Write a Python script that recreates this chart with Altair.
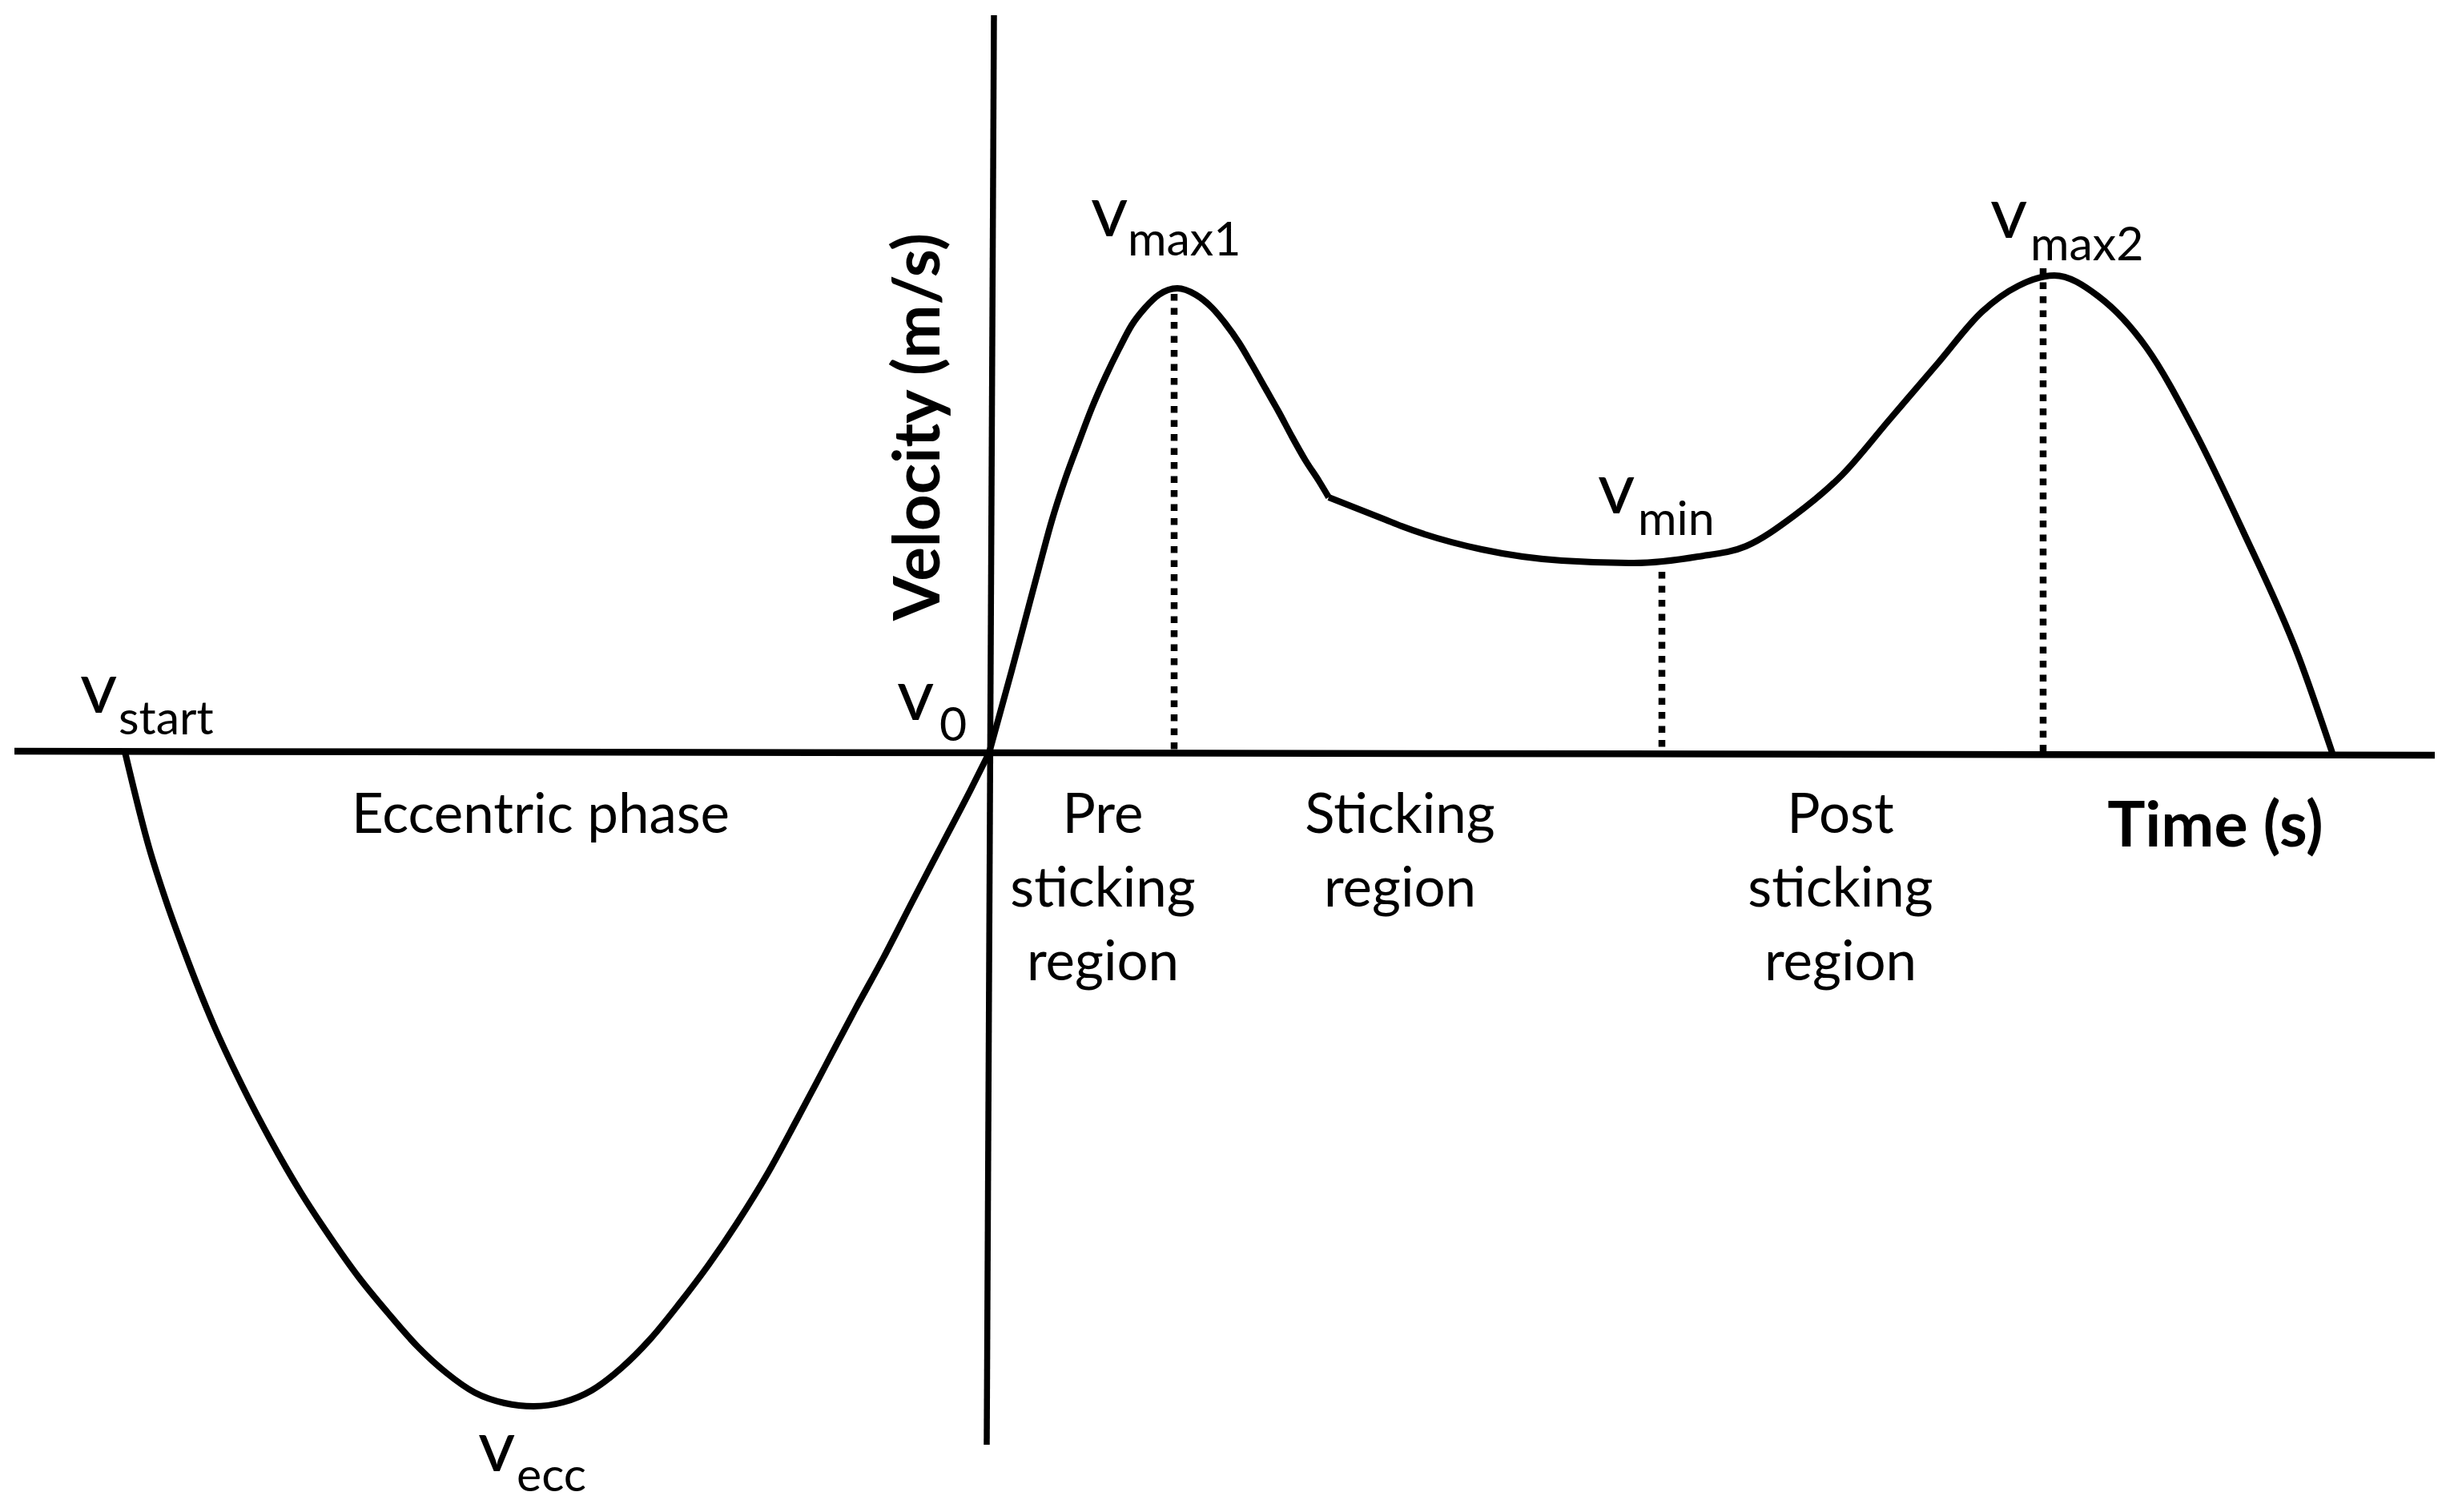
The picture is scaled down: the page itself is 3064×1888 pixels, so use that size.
import altair as alt
import pandas as pd

# ---- plot area / scale domains (arbitrary time & velocity units) ----
W, H = 3040, 1860
T_DOMAIN = [-12.27, 18.13]
V_DOMAIN = [-9.28, 9.32]

# ---- velocity curve ----
ecc_t = [-10.79, -10.49, -10.28, -10.06, -9.69, -9.33, -8.97, -8.60, -8.24, -7.87,
         -7.51, -7.14, -6.78, -6.42, -6.05, -5.69, -5.32, -4.96, -4.59, -4.23,
         -3.87, -3.50, -3.14, -2.77, -2.41, -2.05, -1.68, -1.32, -0.95, -0.59,
         -0.23, 0.0]
ecc_v = [0.01, -1.18, -1.84, -2.45, -3.38, -4.15, -4.84, -5.48, -6.03, -6.55,
         -6.99, -7.41, -7.74, -7.99, -8.12, -8.16, -8.11, -7.96, -7.68, -7.32,
         -6.88, -6.39, -5.86, -5.26, -4.60, -3.92, -3.22, -2.56, -1.84, -1.15,
         -0.46, 0.0]

pre_t = [0.0, 0.28, 0.45, 0.62, 0.78, 0.95, 1.12, 1.28, 1.45, 1.62, 1.78, 1.95,
         2.12, 2.35, 2.58, 2.78, 2.95, 3.12, 3.28, 3.45, 3.62, 3.78, 3.95, 4.12, 4.24]
pre_v = [0.0, 1.02, 1.66, 2.30, 2.89, 3.42, 3.88, 4.30, 4.69, 5.04, 5.34, 5.56,
         5.72, 5.80, 5.72, 5.56, 5.36, 5.12, 4.85, 4.55, 4.25, 3.95, 3.65, 3.39, 3.19]

post_t = [4.24, 4.95, 5.15, 6.15, 7.15, 8.05, 8.85, 9.45, 10.05, 10.65, 11.25, 11.85,
          12.40, 12.85, 13.30, 13.85, 14.45, 15.05, 15.65, 16.35, 16.77]
post_v = [3.19, 2.91, 2.83, 2.54, 2.40, 2.37, 2.45, 2.58, 2.96, 3.47, 4.17, 4.87,
          5.51, 5.83, 5.96, 5.70, 5.06, 4.02, 2.78, 1.20, 0.0]

# ---- axes drawn as lines ----
haxis_t = [-12.17, 18.05]
haxis_v = [0.02, -0.03]
vaxis_t = [0.06, -0.03]
vaxis_v = [9.21, -8.64]

# ---- dotted markers (v_max1, v_min, v_max2) ----
dot_t = [2.31, 8.40, 13.16]
dot_top = [5.73, 2.26, 6.05]

# ---- point labels: main "v" and subscripts ----
lab_sub = ["start", "0", "max1", "min", "max2", "ecc"]
lab_v_t = [-11.35, -1.15, 1.27, 7.60, 12.50, -6.38]
lab_v_v = [0.50, 0.41, 6.45, 2.99, 6.43, -8.97]
lab_s_t = [-10.87, -0.62, 1.73, 8.10, 13.00, -5.90]
lab_s_v = [0.23, 0.15, 6.21, 2.72, 6.15, -9.22]

# ---- region labels ----
reg_text = ["Eccentric phase", "Pre", "sticking", "region", "Sticking", "region",
            "Post", "sticking", "region"]
reg_t = [-5.60, 1.42, 1.42, 1.42, 5.13, 5.13, 10.63, 10.63, 10.63]
reg_v = [-1.00, -1.00, -1.92, -2.84, -1.00, -1.92, -1.00, -1.92, -2.84]

time_label, time_t, time_v = "Time (s)", 15.31, -1.17
vel_label, vel_t, vel_v = "Velocity (m/s)", -0.62, 4.07

FONT = "Lato"

xs = alt.Scale(domain=T_DOMAIN, nice=False, zero=False)
ys = alt.Scale(domain=V_DOMAIN, nice=False, zero=False)


def X(field="t"):
    return alt.X(f"{field}:Q", scale=xs, axis=None)


def Y(field="v"):
    return alt.Y(f"{field}:Q", scale=ys, axis=None)


curve_df = pd.concat([
    pd.DataFrame({"t": ecc_t, "v": ecc_v, "seg": "ecc", "o": range(len(ecc_t))}),
    pd.DataFrame({"t": pre_t, "v": pre_v, "seg": "pre", "o": range(len(pre_t))}),
    pd.DataFrame({"t": post_t, "v": post_v, "seg": "post", "o": range(len(post_t))}),
])

curve = alt.Chart(curve_df).mark_line(
    interpolate="monotone", color="black", strokeWidth=8, strokeJoin="round"
).encode(x=X(), y=Y(), detail="seg:N", order="o:Q")

haxis = alt.Chart(pd.DataFrame({"t": haxis_t, "v": haxis_v})).mark_line(
    color="black", strokeWidth=8.5
).encode(x=X(), y=Y())

vaxis = alt.Chart(pd.DataFrame({"t": vaxis_t, "v": vaxis_v, "o": [0, 1]})).mark_line(
    color="black", strokeWidth=7.5
).encode(x=X(), y=Y(), order="o:Q")

dots = alt.Chart(pd.DataFrame({"t": dot_t, "top": dot_top, "bottom": [0.0] * 3})).mark_rule(
    color="black", strokeWidth=8.5, strokeDash=[8.5, 9], strokeCap="butt"
).encode(x=X(), y=Y("top"), y2="bottom:Q")

vmain = alt.Chart(pd.DataFrame({"t": lab_v_t, "v": lab_v_v, "txt": ["v"] * 6})).mark_text(
    font=FONT, fontSize=90, align="left", baseline="alphabetic", color="black"
).encode(x=X(), y=Y(), text="txt:N")

vsub = alt.Chart(pd.DataFrame({"t": lab_s_t, "v": lab_s_v, "txt": lab_sub})).mark_text(
    font=FONT, fontSize=59, align="left", baseline="alphabetic", color="black"
).encode(x=X(), y=Y(), text="txt:N")

regions = alt.Chart(pd.DataFrame({"t": reg_t, "v": reg_v, "txt": reg_text})).mark_text(
    font=FONT, fontSize=69, align="center", baseline="alphabetic", color="black"
).encode(x=X(), y=Y(), text="txt:N")

time_df = pd.DataFrame({"t": [time_t], "v": [time_v], "txt": [time_label]})
time_txt = alt.Chart(time_df).mark_text(
    font=FONT, fontSize=79, fontWeight="bold", align="center", baseline="alphabetic",
    color="black"
).encode(x=X(), y=Y(), text="txt:N")

vel_df = pd.DataFrame({"t": [vel_t], "v": [vel_v], "txt": [vel_label]})
vel_txt = alt.Chart(vel_df).mark_text(
    font=FONT, fontSize=80, fontWeight="bold", align="center", baseline="alphabetic",
    angle=270, color="black"
).encode(x=X(), y=Y(), text="txt:N")

chart = alt.layer(
    haxis, vaxis, dots, curve, vmain, vsub, regions, time_txt, vel_txt
).properties(
    width=W, height=H,
    padding={"left": 0, "top": 0, "right": 0, "bottom": 8},
    autosize=alt.AutoSizeParams(type="none"),
    background="white"
).configure_view(stroke=None)

chart.save("out.html", embed_options={"renderer": "svg", "actions": False})
